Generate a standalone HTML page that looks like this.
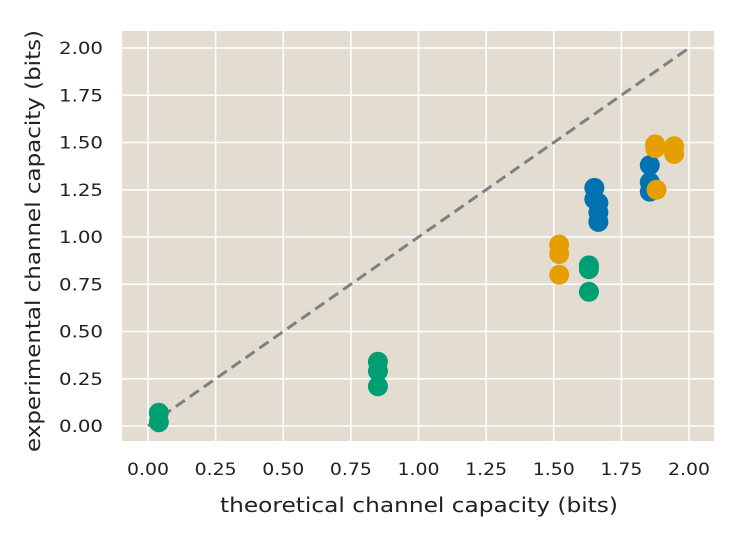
<!DOCTYPE html>
<html><head><meta charset="utf-8"><style>
body{margin:0;background:#fff;}
svg text{font-family:"DejaVu Sans","Liberation Sans",sans-serif;fill:#222;}
</style></head><body>
<svg id="chart" width="739" height="538" xmlns="http://www.w3.org/2000/svg">
<rect x="122" y="31" width="592" height="410" fill="#e3ddd1"/>
<g id="grid"></g><g id="marks"></g><g id="ticks"></g>
<text x="419" y="512" font-size="20" text-anchor="middle" textLength="398" lengthAdjust="spacingAndGlyphs">theoretical channel capacity (bits)</text>
<text transform="translate(40,241) rotate(-90)" font-size="20" text-anchor="middle" textLength="422" lengthAdjust="spacingAndGlyphs">experimental channel capacity (bits)</text>
</svg>
<script>
const xTicks=[0,0.25,0.5,0.75,1,1.25,1.5,1.75,2];
const yTicks=[0,0.25,0.5,0.75,1,1.25,1.5,1.75,2];
const greenX=[0.04,0.04,0.85,0.85,0.85,1.63,1.63,1.63];
const greenY=[0.07,0.02,0.34,0.29,0.21,0.85,0.83,0.71];
const orangeX=[1.52,1.52,1.52,1.875,1.875,1.88,1.945,1.945];
const orangeY=[0.96,0.91,0.80,1.49,1.47,1.25,1.48,1.44];
const blueX=[1.65,1.65,1.665,1.665,1.665,1.855,1.855,1.855];
const blueY=[1.26,1.20,1.18,1.13,1.08,1.38,1.29,1.24];
const X=v=>148+v*270.5, Y=v=>426-v*189;
const NS="http://www.w3.org/2000/svg";
function mk(t,a,p){const e=document.createElementNS(NS,t);for(const k in a)e.setAttribute(k,a[k]);p.appendChild(e);return e;}
const g=document.getElementById('grid'),m=document.getElementById('marks'),tk=document.getElementById('ticks');
xTicks.forEach(v=>{const l=mk('line',{x1:X(v),x2:X(v),y1:31,y2:441,stroke:'#fff','stroke-width':1.5},g);


const t=mk('text',{x:X(v),y:475,'font-size':17,'text-anchor':'middle',textLength:42,lengthAdjust:'spacingAndGlyphs'},tk);t.textContent=v.toFixed(2);

});
yTicks.forEach(v=>{const l=mk('line',{x1:122,x2:714,y1:Y(v),y2:Y(v),stroke:'#fff','stroke-width':1.5},g);


const t=mk('text',{x:103,y:Y(v)+6,'font-size':17,'text-anchor':'end',textLength:44,lengthAdjust:'spacingAndGlyphs'},tk);t.textContent=v.toFixed(2);

});
const d=mk('line',{x1:X(0),y1:Y(0),x2:X(2),y2:Y(2),stroke:'#808080','stroke-width':3,'stroke-dasharray':'11,6'},m);


function series(xs,ys,c,n){xs.forEach((x,i)=>{const e=mk('circle',{cx:X(x),cy:Y(ys[i]),r:10,fill:c},m);

});}
series(greenX,greenY,'#009e73','green-point');
series(blueX,blueY,'#0072b2','blue-point');
series(orangeX,orangeY,'#e69f00','orange-point');
</script>
</body></html>
